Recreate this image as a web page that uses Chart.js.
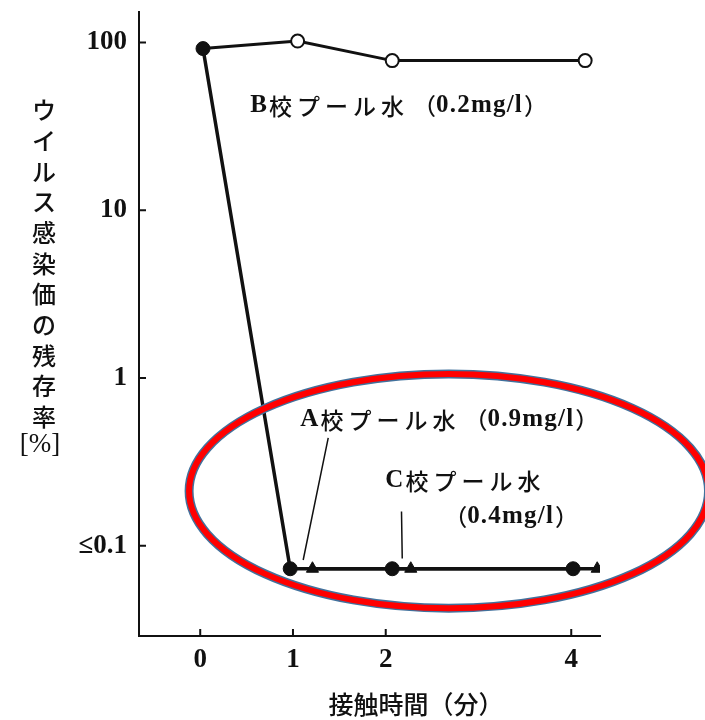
<!DOCTYPE html>
<html>
<head>
<meta charset="utf-8">
<script src="https://cdn.jsdelivr.net/npm/chart.js@4/dist/chart.umd.min.js"></script>
<style>
  html, body { margin: 0; padding: 0; background: #ffffff; }
  #wrap { width: 705px; height: 720px; position: relative; }
</style>
</head>
<body>
<div id="wrap"><canvas id="c"></canvas></div>
<script>
// ---- data ----
const xTicks = [0, 1, 2, 4];
const yTicks = [0.1, 1, 10, 100];
const yTickLabels = ['≤0.1', '1', '10', '100'];

// A校 (filled circles) – starts at 0 min together with B
const timeA = [0.03, 0.97, 2.07, 4.02];
const valA  = [92, 0.073, 0.073, 0.073];
// B校 (open circles)
const timeB = [0.03, 1.05, 2.07, 4.15];
const valB  = [92, 102, 78, 78];
// C校 (filled triangles)
const timeC = [1.21, 2.27, 4.28];
const valC  = [0.073, 0.073, 0.073];

const yTitleChars = ['ウ','イ','ル','ス','感','染','価','の','残','存','率'];
const yTitleUnit = '[%]';
const xTitle = '接触時間（分）';
// series labels split into [text, kind] pieces: 'lat' = Latin, 'jp' = Japanese, 'par' = bracket
const seriesLabels = [
  [['B', 'lat'], ['校プール水', 'jp'], ['（', 'par'], ['0.2mg/l', 'lat'], ['）', 'par']],
  [['A', 'lat'], ['校プール水', 'jp'], ['（', 'par'], ['0.9mg/l', 'lat'], ['）', 'par']],
  [['C', 'lat'], ['校プール水', 'jp']],
  [['（', 'par'], ['0.4mg/l', 'lat'], ['）', 'par']]
];

const toXY = (xs, ys) => xs.map((x, i) => ({ x: x, y: ys[i] }));

const NUM_FONT = '"Liberation Serif", serif';
const LAT_FONT = 'bold 25px "Liberation Serif"';
const JP_FONT = '500 23px "Noto Sans CJK JP"';

function drawPieces(ctx, pieces, x, y) {
  pieces.forEach(([t, kind]) => {
    if (kind === 'lat') {
      ctx.font = LAT_FONT;
      for (const ch of t) { ctx.fillText(ch, x, y); x += ctx.measureText(ch).width + 1.2; }
      x += 1;
    } else {
      ctx.font = JP_FONT;
      const gap = kind === 'jp' ? 5 : 0;
      for (const ch of t) { ctx.fillText(ch, x, y); x += ctx.measureText(ch).width + gap; }
      if (kind === 'jp') x += 4;
    }
  });
}

const decorPlugin = {
  id: 'decor',
  afterDraw(chart) {
    const ctx = chart.ctx;
    const xs = chart.scales.x, ys = chart.scales.y;
    const ca = chart.chartArea;
    const X = v => xs.getPixelForValue(v);
    const Y = v => ys.getPixelForValue(v);
    ctx.save();
    // inside tick marks
    ctx.strokeStyle = '#111';
    ctx.lineWidth = 2;
    ctx.beginPath();
    xTicks.forEach(v => { ctx.moveTo(X(v), ca.bottom); ctx.lineTo(X(v), ca.bottom - 7); });
    yTicks.forEach(v => { ctx.moveTo(ca.left, Y(v)); ctx.lineTo(ca.left + 7, Y(v)); });
    ctx.stroke();

    // series labels (anchored in data coordinates)
    const lblPos = [[0.539, 41.9], [1.078, 0.563], [1.995, 0.2434], [2.63, 0.1486]];
    ctx.fillStyle = '#111';
    ctx.textBaseline = 'middle';
    ctx.textAlign = 'left';
    seriesLabels.forEach((p, i) => drawPieces(ctx, p, X(lblPos[i][0]), Y(lblPos[i][1])));

    // pointer lines
    ctx.lineWidth = 1.5;
    ctx.strokeStyle = '#111';
    ctx.beginPath();
    ctx.moveTo(X(1.38), Y(0.44)); ctx.lineTo(X(1.11), Y(0.0823));
    ctx.moveTo(X(2.17), Y(0.16)); ctx.lineTo(X(2.178), Y(0.084));
    ctx.stroke();

    // y-axis title (vertical)
    ctx.font = '500 24px "Noto Sans CJK JP"';
    ctx.textAlign = 'center';
    ctx.fillStyle = '#111';
    yTitleChars.forEach((ch, i) => ctx.fillText(ch, 44, 110 + i * 30.7));
    ctx.font = '27px "Liberation Serif"';
    ctx.fillText(yTitleUnit, 40, 445);

    // x-axis title
    ctx.font = '500 25px "Noto Sans CJK JP"';
    ctx.fillText(xTitle, 416, 704);

    // highlight ellipse
    const cx = X(2.68), cy = Y(0.212);
    const rx = X(2.68 + 2.8) - cx;
    const ry = cy - Y(0.212 * Math.pow(10, 0.698));
    ctx.beginPath();
    ctx.ellipse(cx, cy, rx, ry, 0, 0, Math.PI * 2);
    ctx.strokeStyle = '#41719C';
    ctx.lineWidth = 9;
    ctx.stroke();
    ctx.strokeStyle = '#FF0000';
    ctx.lineWidth = 6;
    ctx.stroke();
    ctx.restore();
  }
};

new Chart(document.getElementById('c'), {
  type: 'line',
  data: {
    datasets: [
      {
        label: 'B校プール水（0.2mg/l）',
        data: toXY(timeB, valB),
        borderColor: '#111',
        borderWidth: 3,
        pointStyle: 'circle',
        pointRadius: [0, 6.5, 6.5, 6.5],
        pointBackgroundColor: '#fff',
        pointBorderColor: '#111',
        pointBorderWidth: 2,
        tension: 0
      },
      {
        label: 'C校プール水（0.4mg/l）',
        data: toXY(timeC, valC),
        borderColor: '#111',
        borderWidth: 3.5,
        pointStyle: 'triangle',
        pointRadius: 7,
        pointBackgroundColor: '#111',
        pointBorderColor: '#111',
        pointBorderWidth: 1,
        tension: 0
      },
      {
        label: 'A校プール水（0.9mg/l）',
        data: toXY(timeA, valA),
        borderColor: '#111',
        borderWidth: 3.5,
        pointStyle: 'circle',
        pointRadius: 7,
        pointBackgroundColor: '#111',
        pointBorderColor: '#111',
        pointBorderWidth: 1,
        tension: 0
      }
    ]
  },
  options: {
    responsive: true,
    maintainAspectRatio: false,
    animation: false,
    layout: { padding: { top: 12, right: 105, left: 0, bottom: 0 } },
    plugins: { legend: { display: false }, tooltip: { enabled: false }, title: { display: false } },
    scales: {
      x: {
        type: 'linear',
        min: -0.66,
        max: 4.31,
        afterBuildTicks: s => { s.ticks = xTicks.map(v => ({ value: v })); },
        afterFit: s => { s.height = 84; s.paddingLeft = 0; s.paddingRight = 0; },
        grid: { display: false, drawTicks: false },
        border: { color: '#111', width: 2 },
        ticks: { color: '#111', font: { family: NUM_FONT, size: 27, weight: 'bold' }, padding: 8, autoSkip: false, maxRotation: 0,
                 callback: v => String(v) }
      },
      y: {
        type: 'logarithmic',
        min: 0.029,
        max: 152,
        afterBuildTicks: s => { s.ticks = yTicks.map(v => ({ value: v })); },
        afterFit: s => { s.width = 139; s.paddingTop = 0; s.paddingBottom = 0; },
        grid: { display: false, drawTicks: false },
        border: { color: '#111', width: 2 },
        ticks: { color: '#111', font: { family: NUM_FONT, size: 27, weight: 'bold' }, padding: 12, autoSkip: false,
                 callback: (v, i) => yTickLabels[i] }
      }
    }
  },
  plugins: [decorPlugin]
});
</script>
</body>
</html>
